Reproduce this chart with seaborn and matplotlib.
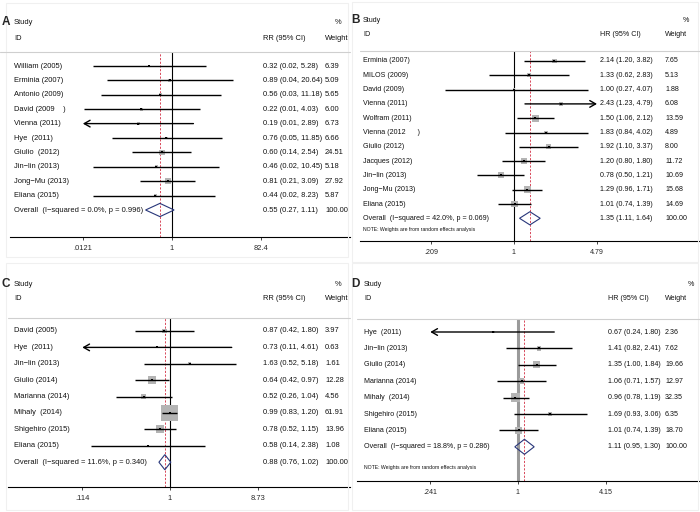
import numpy as np
import pandas as pd
import matplotlib
matplotlib.use("Agg")
import matplotlib.pyplot as plt
from matplotlib import transforms
from matplotlib.patches import Rectangle
import seaborn as sns

# ---- panel A (RR) ----
a_study = ["William (2005)", "Erminia (2007)", "Antonio (2009)", "David (2009    )", "Vienna (2011)",
           "Hye  (2011)", "Giulio  (2012)", "Jin\u2212lin (2013)", "Jong\u2212Mu (2013)", "Eliana (2015)"]
a_est = [0.32, 0.89, 0.56, 0.22, 0.19, 0.76, 0.60, 0.46, 0.81, 0.44]
a_lo = [0.02, 0.04, 0.03, 0.0125, 0.01, 0.05, 0.14, 0.02, 0.21, 0.02]
a_hi = [5.28, 20.64, 11.18, 4.03, 2.89, 11.85, 2.54, 10.45, 3.09, 8.23]
a_weight = [6.39, 5.09, 5.65, 6.00, 6.73, 6.66, 24.51, 5.18, 27.92, 5.87]
a_overall = [0.55, 0.27, 1.11]
a_het = "Overall  (I\u2212squared = 0.0%, p = 0.996)"
a_ticks = [0.0121, 1, 82.4]
a_ticklabels = [".0121", "1", "82.4"]

# ---- panel B (HR) ----
b_study = ["Erminia (2007)", "MILOS (2009)", "David (2009)", "Vienna (2011)", "Wolfram (2011)",
           "Vienna (2012      )", "Giulio (2012)", "Jacques (2012)", "Jin\u2212lin (2013)",
           "Jong\u2212Mu (2013)", "Eliana (2015)"]
b_est = [2.14, 1.33, 1.00, 2.43, 1.50, 1.83, 1.92, 1.20, 0.78, 1.29, 1.01]
b_lo = [1.20, 0.62, 0.27, 1.23, 1.06, 0.84, 1.10, 0.80, 0.50, 0.96, 0.74]
b_hi = [3.82, 2.83, 4.07, 4.79, 2.12, 4.02, 3.37, 1.80, 1.21, 1.71, 1.39]
b_weight = [7.65, 5.13, 1.88, 6.08, 13.59, 4.89, 8.00, 11.72, 10.69, 15.68, 14.69]
b_overall = [1.35, 1.11, 1.64]
b_het = "Overall  (I\u2212squared = 42.0%, p = 0.069)"
b_ticks = [0.209, 1, 4.79]
b_ticklabels = [".209", "1", "4.79"]

# ---- panel C (RR) ----
c_study = ["David (2005)", "Hye  (2011)", "Jin\u2212lin (2013)", "Giulio (2014)", "Marianna (2014)",
           "Mihaly  (2014)", "Shigehiro (2015)", "Eliana (2015)"]
c_est = [0.87, 0.73, 1.63, 0.64, 0.52, 0.99, 0.78, 0.58]
c_lo = [0.42, 0.11, 0.52, 0.42, 0.26, 0.83, 0.52, 0.14]
c_hi = [1.80, 4.61, 5.18, 0.97, 1.04, 1.20, 1.15, 2.38]
c_weight = [3.97, 0.63, 1.61, 12.28, 4.56, 61.91, 13.96, 1.08]
c_overall = [0.88, 0.76, 1.02]
c_het = "Overall  (I\u2212squared = 11.6%, p = 0.340)"
c_ticks = [0.114, 1, 8.73]
c_ticklabels = [".114", "1", "8.73"]

# ---- panel D (HR) ----
d_study = ["Hye  (2011)", "Jin\u2212lin (2013)", "Giulio (2014)", "Marianna (2014)", "Mihaly  (2014)",
           "Shigehiro (2015)", "Eliana (2015)"]
d_est = [0.67, 1.41, 1.35, 1.06, 0.96, 1.69, 1.01]
d_lo = [0.24, 0.82, 1.00, 0.71, 0.78, 0.93, 0.74]
d_hi = [1.80, 2.41, 1.84, 1.57, 1.19, 3.06, 1.39]
d_weight = [2.36, 7.62, 19.66, 12.97, 32.35, 6.35, 18.70]
d_overall = [1.11, 0.95, 1.30]
d_het = "Overall  (I\u2212squared = 18.8%, p = 0.286)"
d_ticks = [0.241, 1, 4.15]
d_ticklabels = [".241", "1", "4.15"]

note_text = "NOTE: Weights are from random effects analysis"

W, H = 700, 512

sns.set_theme(style="white")
plt.rcParams["font.family"] = ["Liberation Sans", "DejaVu Sans"]

fig = plt.figure(figsize=(W / 100, H / 100), dpi=100)

# layout of each panel in figure pixels (x from left, y from top)
layouts = {
    "A": dict(frame=(6, 3, 348, 257), label_x=2, name_x=14, ci_x=263, w_x=325, pct_x=335, study_y=22, id_y=38,
              line=(0, 350, 52), first_y=66, step=14.4, axis_y=237, ax_x=(10, 350), fs=5.4,
              null_px=172, ppd=46.5, box_k=1.15, null_style=dict(color="black", lw=0.8), note_y=None),
    "B": dict(frame=(352, 2, 698, 262), label_x=351, name_x=363, ci_x=600, w_x=665, pct_x=683, study_y=20, id_y=35,
              line=(360, 700, 51), first_y=61, step=14.3, axis_y=241, ax_x=(360, 700), fs=5.1,
              null_px=514, ppd=122, box_k=1.8, null_style=dict(color="black", lw=0.8), note_y=230),
    "C": dict(frame=(6, 263, 348, 510), label_x=2, name_x=14, ci_x=263, w_x=325, pct_x=335, study_y=284, id_y=299,
              line=(8, 350, 318), first_y=331, step=16.4, axis_y=487, ax_x=(8, 350), fs=5.4,
              null_px=170, ppd=93, box_k=2.15, null_style=dict(color="black", lw=0.8), note_y=None),
    "D": dict(frame=(352, 263, 698, 510), label_x=351, name_x=364, ci_x=608, w_x=665, pct_x=688, study_y=284, id_y=299,
              line=(357, 700, 319), first_y=332, step=16.4, axis_y=481, ax_x=(357, 700), fs=5.1,
              null_px=518, ppd=142, box_k=1.6, null_style=dict(color="#9a9a9a", lw=2.2), note_y=468),
}


def fx(px):
    return px / W


def fy(py):
    return 1 - py / H


def draw_panel(letter, measure, study, est, lo, hi, weight, overall, het, ticks, ticklabels, note):
    L = layouts[letter]
    fs = L["fs"]
    row = lambda py: (py - L["first_y"]) / L["step"]

    # faint panel frame
    x0, y0, x1, y1 = L["frame"]
    fig.add_artist(Rectangle((fx(x0), fy(y1)), (x1 - x0) / W, (y1 - y0) / H, transform=fig.transFigure,
                             fill=False, ec="#f0f0f0", lw=0.8))

    ax0, ax1 = L["ax_x"]
    ax = fig.add_axes([fx(ax0), fy(L["axis_y"]), (ax1 - ax0) / W, (L["axis_y"] - L["line"][2]) / H])
    ax.set_facecolor("none")
    ax.set_xscale("log")
    ax.set_xlim(10 ** ((ax0 - L["null_px"]) / L["ppd"]), 10 ** ((ax1 - L["null_px"]) / L["ppd"]))
    ax.set_ylim(row(L["axis_y"]), row(L["line"][2]))
    for s in ["top", "left", "right"]:
        ax.spines[s].set_visible(False)
    ax.spines["bottom"].set_linewidth(0.8)
    ax.spines["bottom"].set_color("black")

    n = len(study)
    rows = np.arange(n)
    df = pd.DataFrame({"study": study, "est": est, "lo": lo, "hi": hi, "weight": weight, "row": rows})

    # reference lines
    ax.axvline(1, zorder=1, **L["null_style"])
    ax.axvline(overall[0], color="#d8485a", lw=0.7, ls=(0, (2.2, 1.6)), zorder=1)

    # weight boxes (area ~ weight)
    wmax = df["weight"].max()
    smax = (L["box_k"] * 0.72) ** 2 * wmax
    sns.scatterplot(data=df, x="est", y="row", size="weight", sizes=(0, smax), size_norm=(0, wmax),
                    marker="s", color="#b4b4b4", linewidth=0, legend=False, ax=ax, zorder=2)

    # confidence intervals, arrows where they leave the axis range
    tlo, thi = ticks[0], ticks[-1]
    for r, l, h in zip(rows, lo, hi):
        left_arrow = l < tlo * 0.999
        right_arrow = h > thi * 0.999
        l_c, h_c = max(l, tlo), min(h, thi)
        if left_arrow or right_arrow:
            tip, tail = (l_c, h_c) if left_arrow else (h_c, l_c)
            ax.annotate("", xy=(tip, r), xytext=(tail, r),
                        arrowprops=dict(arrowstyle="->,head_length=0.35,head_width=0.2", lw=1.0,
                                        color="black", shrinkA=0, shrinkB=0), zorder=3)
        else:
            ax.hlines(r, l_c, h_c, color="black", lw=1.0, zorder=3)

    # point estimates
    sns.scatterplot(data=df, x="est", y="row", marker="s", s=2.5, color="black", linewidth=0,
                    legend=False, ax=ax, zorder=4)

    # overall diamond
    e, l, h = overall
    hd = 0.46
    ax.fill([l, e, h, e], [n, n - hd, n, n + hd], facecolor="none", edgecolor="#28367a", lw=0.8, zorder=5)

    ax.set_xlabel("")
    ax.set_ylabel("")
    ax.set_yticks([])
    ax.set_xticks(ticks)
    ax.set_xticklabels(ticklabels)
    ax.minorticks_off()
    ax.tick_params(axis="x", direction="out", length=2.5, width=0.6, pad=3, labelsize=fs, bottom=True)

    # texts
    tr = transforms.blended_transform_factory(fig.transFigure, ax.transData)
    txt = dict(fontsize=fs, va="center", ha="left", color="#111111")
    for r, s_, e_, l_, h_, w_ in zip(rows, study, est, lo, hi, weight):
        ax.text(fx(L["name_x"]), r, s_, transform=tr, clip_on=False, **txt)
        ax.text(fx(L["ci_x"]), r, f"{e_:.2f} ({l_:.2f}, {h_:.2f})", transform=tr, clip_on=False, **txt)
        ax.text(fx(L["w_x"]), r, f"{w_:.2f}", transform=tr, clip_on=False, **txt)
    ax.text(fx(L["name_x"]), n, het, transform=tr, clip_on=False, **txt)
    ax.text(fx(L["ci_x"]), n, f"{e:.2f} ({l:.2f}, {h:.2f})", transform=tr, clip_on=False, **txt)
    ax.text(fx(L["w_x"]), n, "100.00", transform=tr, clip_on=False, **txt)

    # header
    fig.text(fx(L["label_x"]), fy(L["study_y"]), letter, fontsize=8.5, fontweight="bold", va="center", ha="left")
    fig.text(fx(L["name_x"]), fy(L["study_y"]), "Study", **txt)
    fig.text(fx(L["name_x"]), fy(L["id_y"]), "ID", **txt)
    fig.text(fx(L["ci_x"]), fy(L["id_y"]), f"{measure} (95% CI)", **txt)
    fig.text(fx(L["w_x"]), fy(L["id_y"]), "Weight", **txt)
    fig.text(fx(L["pct_x"]), fy(L["study_y"]), "%", **txt)
    lx0, lx1, ly = L["line"]
    fig.add_artist(plt.Line2D([fx(lx0), fx(lx1)], [fy(ly), fy(ly)], transform=fig.transFigure,
                              color="#cfcfcf", lw=0.8))
    if note and L["note_y"] is not None:
        fig.text(fx(L["name_x"]), fy(L["note_y"]), note, fontsize=3.7, va="center", ha="left", color="#111111")


draw_panel("A", "RR", a_study, a_est, a_lo, a_hi, a_weight, a_overall, a_het, a_ticks, a_ticklabels, None)
draw_panel("B", "HR", b_study, b_est, b_lo, b_hi, b_weight, b_overall, b_het, b_ticks, b_ticklabels, note_text)
draw_panel("C", "RR", c_study, c_est, c_lo, c_hi, c_weight, c_overall, c_het, c_ticks, c_ticklabels, None)
draw_panel("D", "HR", d_study, d_est, d_lo, d_hi, d_weight, d_overall, d_het, d_ticks, d_ticklabels, note_text)

fig.savefig("out.png", dpi=100, facecolor="white")
